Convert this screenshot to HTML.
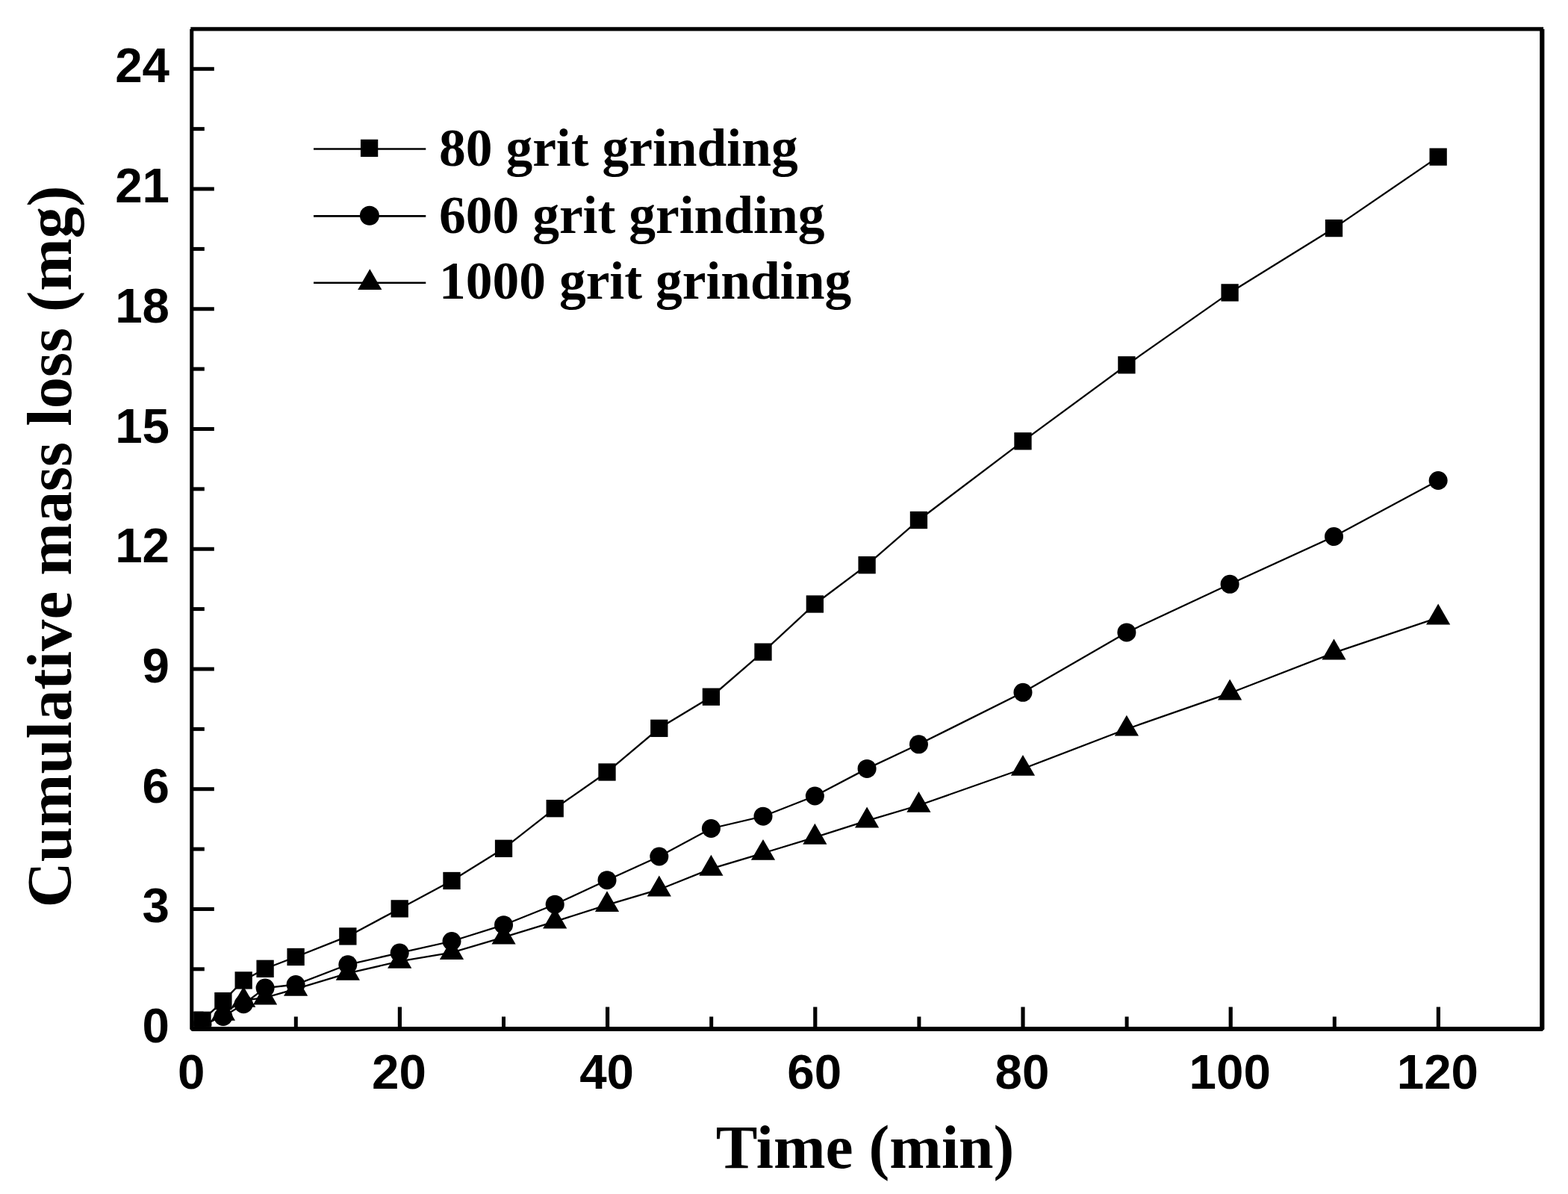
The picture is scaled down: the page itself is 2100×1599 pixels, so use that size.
<!DOCTYPE html>
<html><head><meta charset="utf-8"><title>Cumulative mass loss</title>
<style>html,body{margin:0;padding:0;background:#fff;}svg{display:block;}</style>
</head><body>
<svg width="2100" height="1599" viewBox="0 0 2100 1599">
<defs><clipPath id="c"><rect x="259.25" y="41.5" width="1802.8" height="1333.3"/></clipPath></defs>
<g clip-path="url(#c)">
<g fill="none" stroke="#000" stroke-width="2.3" stroke-linejoin="miter">
<polyline points="271,1366.3 298.9,1340.6 326.2,1312.9 355.1,1297.3 396.1,1281.5 465.85,1253.9 535.2,1216.9 605,1179.5 674.55,1136.3 743.2,1082.7 813,1034 882.8,975.3 952.4,933.2 1022,873.1 1091.35,809 1161.1,756.7 1230.45,696.5 1369.97,590.8 1508.9,488.8 1647.1,391.9 1786.5,305.6 1926.15,210.1"/>
<polyline points="271,1372 298.9,1361.5 326.2,1344.7 355.1,1323.1 396.1,1318.5 465.85,1291.8 535.2,1276.1 605,1260.5 674.55,1238.7 743.2,1211.2 813,1178.7 882.8,1147 952.4,1109.5 1022,1093.2 1091.35,1066 1161.1,1029.4 1230.45,996.8 1369.97,927.3 1508.9,846.9 1647.1,782.3 1786.5,718.5 1926.15,643.5"/>
<polyline points="271,1376 298.9,1357.4 326.2,1339.5 355.1,1336.1 396.1,1324.4 465.85,1303.4 535.2,1287.4 605,1275.7 674.55,1255.1 743.2,1234.1 813,1211.8 882.8,1191.2 952.4,1163.4 1022,1142.5 1091.35,1121.4 1161.1,1099.1 1230.45,1078.5 1369.97,1029.5 1508.9,976.3 1647.1,928.2 1786.5,874.2 1926.15,827.2"/>
</g><g fill="#000">
<polygon points="271,1357.41 254.9,1385.3 287.1,1385.3"/>
<polygon points="298.9,1338.81 282.8,1366.7 315,1366.7"/>
<polygon points="326.2,1320.91 310.1,1348.8 342.3,1348.8"/>
<polygon points="355.1,1317.51 339,1345.4 371.2,1345.4"/>
<polygon points="396.1,1305.81 380,1333.7 412.2,1333.7"/>
<polygon points="465.85,1284.81 449.75,1312.7 481.95,1312.7"/>
<polygon points="535.2,1268.81 519.1,1296.7 551.3,1296.7"/>
<polygon points="605,1257.11 588.9,1285 621.1,1285"/>
<polygon points="674.55,1236.51 658.45,1264.4 690.65,1264.4"/>
<polygon points="743.2,1215.51 727.1,1243.4 759.3,1243.4"/>
<polygon points="813,1193.21 796.9,1221.1 829.1,1221.1"/>
<polygon points="882.8,1172.61 866.7,1200.5 898.9,1200.5"/>
<polygon points="952.4,1144.81 936.3,1172.7 968.5,1172.7"/>
<polygon points="1022,1123.91 1005.9,1151.8 1038.1,1151.8"/>
<polygon points="1091.35,1102.81 1075.25,1130.7 1107.45,1130.7"/>
<polygon points="1161.1,1080.51 1145,1108.4 1177.2,1108.4"/>
<polygon points="1230.45,1059.91 1214.35,1087.8 1246.55,1087.8"/>
<polygon points="1369.97,1010.91 1353.87,1038.8 1386.07,1038.8"/>
<polygon points="1508.9,957.71 1492.8,985.6 1525,985.6"/>
<polygon points="1647.1,909.61 1631,937.5 1663.2,937.5"/>
<polygon points="1786.5,855.61 1770.4,883.5 1802.6,883.5"/>
<polygon points="1926.15,808.61 1910.05,836.5 1942.25,836.5"/>
<circle cx="271" cy="1372" r="12.5"/>
<circle cx="298.9" cy="1361.5" r="12.5"/>
<circle cx="326.2" cy="1344.7" r="12.5"/>
<circle cx="355.1" cy="1323.1" r="12.5"/>
<circle cx="396.1" cy="1318.5" r="12.5"/>
<circle cx="465.85" cy="1291.8" r="12.5"/>
<circle cx="535.2" cy="1276.1" r="12.5"/>
<circle cx="605" cy="1260.5" r="12.5"/>
<circle cx="674.55" cy="1238.7" r="12.5"/>
<circle cx="743.2" cy="1211.2" r="12.5"/>
<circle cx="813" cy="1178.7" r="12.5"/>
<circle cx="882.8" cy="1147" r="12.5"/>
<circle cx="952.4" cy="1109.5" r="12.5"/>
<circle cx="1022" cy="1093.2" r="12.5"/>
<circle cx="1091.35" cy="1066" r="12.5"/>
<circle cx="1161.1" cy="1029.4" r="12.5"/>
<circle cx="1230.45" cy="996.8" r="12.5"/>
<circle cx="1369.97" cy="927.3" r="12.5"/>
<circle cx="1508.9" cy="846.9" r="12.5"/>
<circle cx="1647.1" cy="782.3" r="12.5"/>
<circle cx="1786.5" cy="718.5" r="12.5"/>
<circle cx="1926.15" cy="643.5" r="12.5"/>
<rect x="259.35" y="1354.65" width="23.3" height="23.3"/>
<rect x="287.25" y="1328.95" width="23.3" height="23.3"/>
<rect x="314.55" y="1301.25" width="23.3" height="23.3"/>
<rect x="343.45" y="1285.65" width="23.3" height="23.3"/>
<rect x="384.45" y="1269.85" width="23.3" height="23.3"/>
<rect x="454.2" y="1242.25" width="23.3" height="23.3"/>
<rect x="523.55" y="1205.25" width="23.3" height="23.3"/>
<rect x="593.35" y="1167.85" width="23.3" height="23.3"/>
<rect x="662.9" y="1124.65" width="23.3" height="23.3"/>
<rect x="731.55" y="1071.05" width="23.3" height="23.3"/>
<rect x="801.35" y="1022.35" width="23.3" height="23.3"/>
<rect x="871.15" y="963.65" width="23.3" height="23.3"/>
<rect x="940.75" y="921.55" width="23.3" height="23.3"/>
<rect x="1010.35" y="861.45" width="23.3" height="23.3"/>
<rect x="1079.7" y="797.35" width="23.3" height="23.3"/>
<rect x="1149.45" y="745.05" width="23.3" height="23.3"/>
<rect x="1218.8" y="684.85" width="23.3" height="23.3"/>
<rect x="1358.32" y="579.15" width="23.3" height="23.3"/>
<rect x="1497.25" y="477.15" width="23.3" height="23.3"/>
<rect x="1635.45" y="380.25" width="23.3" height="23.3"/>
<rect x="1774.85" y="293.95" width="23.3" height="23.3"/>
<rect x="1914.5" y="198.45" width="23.3" height="23.3"/>
<rect x="258.5" y="1354.65" width="14" height="23.3"/>
</g></g>
<g fill="#000">
<path fill-rule="evenodd" d="M255.3,36.3 H2067.1 V39.1 H2068.4 V1378.2 L2065.6,1381 H257 L254.25,1378.2 V39 H255.3 Z M259.25,41.5 V1374.9 H2062.2 V41.5 Z"/>
<rect x="259" y="1295.33" width="14.8" height="5"/>
<rect x="259" y="1214.96" width="27.8" height="5"/>
<rect x="259" y="1134.59" width="14.8" height="5"/>
<rect x="259" y="1054.22" width="27.8" height="5"/>
<rect x="259" y="973.85" width="14.8" height="5"/>
<rect x="259" y="893.48" width="27.8" height="5"/>
<rect x="259" y="813.11" width="14.8" height="5"/>
<rect x="259" y="732.74" width="27.8" height="5"/>
<rect x="259" y="652.37" width="14.8" height="5"/>
<rect x="259" y="572" width="27.8" height="5"/>
<rect x="259" y="491.63" width="14.8" height="5"/>
<rect x="259" y="411.26" width="27.8" height="5"/>
<rect x="259" y="330.89" width="14.8" height="5"/>
<rect x="259" y="250.52" width="27.8" height="5"/>
<rect x="259" y="170.15" width="14.8" height="5"/>
<rect x="259" y="89.78" width="27.8" height="5"/>
<rect x="393.8" y="1361.5" width="5" height="13.5"/>
<rect x="532.8" y="1348.5" width="5.2" height="26.5"/>
<rect x="672" y="1361.5" width="5" height="13.5"/>
<rect x="811" y="1348.5" width="5.2" height="26.5"/>
<rect x="950.2" y="1361.5" width="5" height="13.5"/>
<rect x="1089.2" y="1348.5" width="5.2" height="26.5"/>
<rect x="1228.4" y="1361.5" width="5" height="13.5"/>
<rect x="1367.4" y="1348.5" width="5.2" height="26.5"/>
<rect x="1506.6" y="1361.5" width="5" height="13.5"/>
<rect x="1645.6" y="1348.5" width="5.2" height="26.5"/>
<rect x="1784.8" y="1361.5" width="5" height="13.5"/>
<rect x="1923.8" y="1348.5" width="5.2" height="26.5"/>
</g>
<g font-family="Liberation Sans, Arial, sans-serif" font-weight="bold" font-size="65.5" fill="#000">
<text x="227" y="1396.2" text-anchor="end">0</text>
<text x="227" y="1235.46" text-anchor="end">3</text>
<text x="227" y="1074.72" text-anchor="end">6</text>
<text x="227" y="913.98" text-anchor="end">9</text>
<text x="227" y="753.24" text-anchor="end">12</text>
<text x="227" y="592.5" text-anchor="end">15</text>
<text x="227" y="431.76" text-anchor="end">18</text>
<text x="227" y="271.02" text-anchor="end">21</text>
<text x="227" y="110.28" text-anchor="end">24</text>
<text x="256.2" y="1458" text-anchor="middle">0</text>
<text x="534.4" y="1458" text-anchor="middle">20</text>
<text x="812.6" y="1458" text-anchor="middle">40</text>
<text x="1090.8" y="1458" text-anchor="middle">60</text>
<text x="1369" y="1458" text-anchor="middle">80</text>
<text x="1647.2" y="1458" text-anchor="middle">100</text>
<text x="1925.4" y="1458" text-anchor="middle">120</text>
</g>
<g font-family="Liberation Serif, Times New Roman, serif" font-weight="bold" fill="#000">
<text x="1158.5" y="1564.2" font-size="83.5" text-anchor="middle">Time (min)</text>
<text transform="translate(95,732) rotate(-90)" font-size="84.7" text-anchor="middle">Cumulative mass loss (mg)</text>
</g>
<g stroke="#000" stroke-width="2.6">
<line x1="420" y1="199.5" x2="570.3" y2="199.5"/>
<line x1="420" y1="289.4" x2="570.3" y2="289.4"/>
<line x1="420" y1="378.8" x2="570.3" y2="378.8"/>
</g><g fill="#000">
<rect x="482.95" y="186.75" width="23.3" height="23.3"/>
<circle cx="494.9" cy="288.8" r="13"/>
<polygon points="495.3,360.21 479.2,388.1 511.4,388.1"/>
</g>
<g font-family="Liberation Serif, Times New Roman, serif" font-weight="bold" font-size="71.5" fill="#000">
<text x="588" y="221.7">80 grit grinding</text>
<text x="588" y="311.6">600 grit grinding</text>
<text x="588" y="399.8">1000 grit grinding</text>
</g>
</svg>
</body></html>
